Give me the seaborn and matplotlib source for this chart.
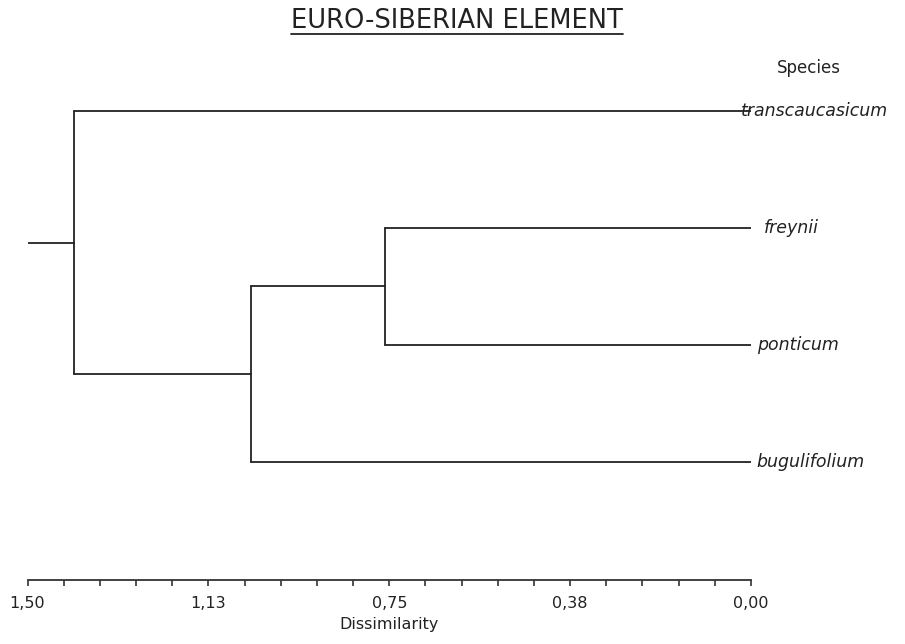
import numpy as np
import pandas as pd
import matplotlib
matplotlib.use("Agg")
import matplotlib.pyplot as plt
import seaborn as sns
from decimal import Decimal, ROUND_HALF_UP
from matplotlib.lines import Line2D
from matplotlib.ticker import MultipleLocator, FuncFormatter

# leaves (top to bottom) and merge steps: (child a, child b, dissimilarity)
species = ["transcaucasicum", "freynii", "ponticum", "bugulifolium"]
merges = [(1, 2, 0.759), (4, 3, 1.037), (0, 5, 1.404)]
root_top = 1.50
label_offsets = [-7, 9, 4, 4]  # points, label nudges

sns.set_style("white")
plt.rcParams['font.family'] = ['DejaVu Sans']

# node positions: leaves at 0..n-1, internal nodes at mean of children
node_y = {i: float(i) for i in range(len(species))}
node_x = {i: 0.0 for i in range(len(species))}
segs = []
for k, (a, b, h) in enumerate(merges):
    nid = len(species) + k
    for c in (a, b):
        segs.append((node_x[c], node_y[c], h, node_y[c]))
    segs.append((h, node_y[a], h, node_y[b]))
    node_x[nid] = h
    node_y[nid] = (node_y[a] + node_y[b]) / 2
last = len(species) + len(merges) - 1
segs.append((node_x[last], node_y[last], root_top, node_y[last]))

rows = []
for sid, (x0, y0, x1, y1) in enumerate(segs):
    rows.append({"seg": sid, "x": x0, "y": y0})
    rows.append({"seg": sid, "x": x1, "y": y1})
df = pd.DataFrame(rows)


def comma_fmt(v, pos):
    d = Decimal(str(round(abs(v), 6))).quantize(Decimal("0.01"), rounding=ROUND_HALF_UP)
    return str(d).replace(".", ",")


fig = plt.figure(figsize=(9.05, 6.44), dpi=100)
ax = fig.add_axes([27.5 / 905, 64 / 644, (751 - 27.5) / 905, (580 - 50) / 644])

sns.lineplot(data=df, x="x", y="y", units="seg", estimator=None, sort=False,
             color="#222222", linewidth=1.3, ax=ax, legend=False)

ax.set_xlim(1.5, 0.0)
ax.set_ylim(4.009, -0.521)
for s in ["top", "left", "right"]:
    ax.spines[s].set_visible(False)
ax.spines["bottom"].set_color("#333333")
ax.spines["bottom"].set_linewidth(1.3)
ax.set_yticks([])
ax.set_ylabel("")
ax.xaxis.set_major_locator(MultipleLocator(0.375))
ax.xaxis.set_minor_locator(MultipleLocator(0.075))
ax.xaxis.set_major_formatter(FuncFormatter(comma_fmt))
ax.tick_params(axis="x", which="both", direction="out", length=4.5, width=1.2,
               color="#333333", bottom=True)
ax.tick_params(axis="x", which="major", labelsize=11.5, pad=7, labelcolor="#222222")
ax.set_xlabel("Dissimilarity", fontsize=11.5, color="#222222", labelpad=4)

for i, name in enumerate(species):
    ax.annotate(name, xy=(0, i), xytext=(label_offsets[i], 0),
                textcoords="offset points", va="center", ha="left",
                style="italic", fontsize=12.5, color="#222222",
                annotation_clip=False)

fig.text(809 / 905, 1 - 68 / 644, "Species", ha="center", va="center",
         fontsize=12, color="#222222")
title = fig.text(457 / 905, 1 - 21 / 644, "EURO-SIBERIAN ELEMENT", ha="center",
                 va="center", fontsize=18.5, color="#222222")

# underline the title
fig.canvas.draw()
bb = title.get_window_extent().transformed(fig.transFigure.inverted())
uy = 1 - 34 / 644
fig.add_artist(Line2D([bb.x0, bb.x1], [uy, uy], transform=fig.transFigure,
                      color="#222222", linewidth=1.3))

fig.savefig("out.png", dpi=100)
